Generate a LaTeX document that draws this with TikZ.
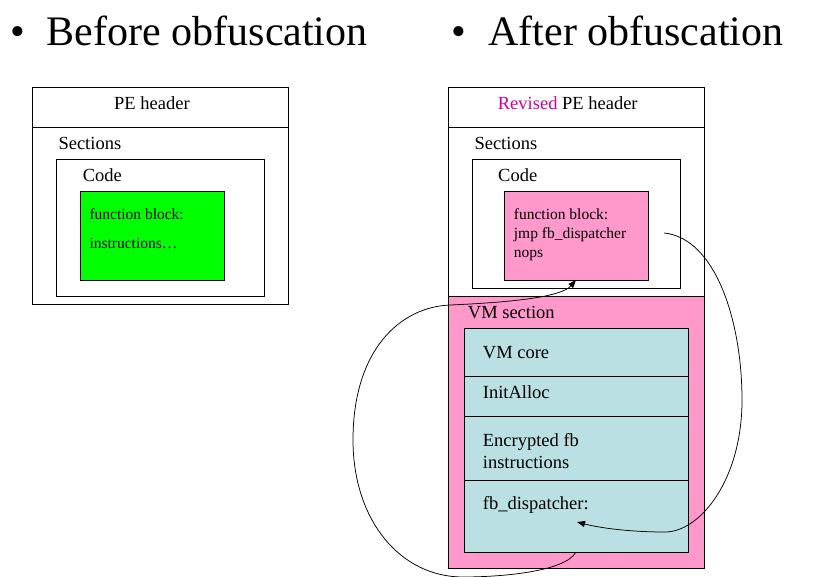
\documentclass[tikz,border=0pt]{standalone}
\usepackage{fontspec}
\setmainfont{Liberation Serif}
\usetikzlibrary{arrows.meta,calc}
\definecolor{pinkfill}{HTML}{FF99CC}
\definecolor{cyanfill}{HTML}{BBE0E3}
\definecolor{greenfill}{HTML}{00FF00}
\definecolor{revised}{HTML}{CC0099}
\tikzset{
  box/.style={draw, line width=1pt, inner sep=0pt, outer sep=0pt, anchor=north west},
  lbl/.style={inner sep=0pt, anchor=base west, font=\fontsize{18.5}{22}\selectfont},
  small/.style={inner sep=0pt, anchor=base west, font=\fontsize{15.5}{19}\selectfont},
  ttl/.style={inner sep=0pt, anchor=base west, font=\fontsize{42}{50}\selectfont},
  bul/.style={inner sep=0pt, anchor=base, font=\fontsize{42}{50}\selectfont},
  conn/.style={line width=0.75pt, -{Triangle[length=8pt,width=6pt]}}
}
\begin{document}
\begin{tikzpicture}[x=1pt,y=-1pt]
\useasboundingbox (0,0) rectangle (824,577);
% titles
\node[bul] (b1) at (17.5,45.7) {•};
\node[ttl] (t1) at (46.7,45.7) {Before obfuscation};
\node[bul] (b2) at (458.5,45.7) {•};
\node[ttl] (t2) at (488.3,45.7) {After obfuscation};
% ---------- left ----------
\node[box, minimum width=256pt, minimum height=216pt] (Lout) at (32,88) {};
\draw[line width=1pt] (32,128) -- (288,128);
\node[box, minimum width=208pt, minimum height=136pt] (Lcode) at (56,160) {};
\node[box, fill=greenfill, minimum width=144pt, minimum height=88pt] (Lfn) at (80,192) {};
\node[lbl] (Lhdr) at (114,109.5) {PE header};
\node[lbl] (Lsec) at (58.3,149.5) {Sections};
\node[lbl] (Lcodet) at (82.7,182) {Code};
\node[small] (Lfn1) at (89.3,219.5) {function block:};
\node[small] (Lfn2) at (89.3,248.5) {instructions…};
% ---------- right ----------
\node[box, fill=pinkfill, minimum width=256pt, minimum height=272pt] (Rvm) at (448,296) {};
\node[box, minimum width=256pt, minimum height=480pt] (Rout) at (448,88) {};
\draw[line width=1pt] (448,128) -- (704,128);
\node[box, minimum width=208pt, minimum height=128pt] (Rcode) at (472,160) {};
\node[box, fill=pinkfill, minimum width=144pt, minimum height=88pt] (Rfn) at (504,192) {};
\node[box, fill=cyanfill, minimum width=224pt, minimum height=48pt] (vmcore) at (464,328) {};
\node[box, fill=cyanfill, minimum width=224pt, minimum height=40pt] (initalloc) at (464,376) {};
\node[box, fill=cyanfill, minimum width=224pt, minimum height=64pt] (encfb) at (464,416) {};
\node[box, fill=cyanfill, minimum width=224pt, minimum height=72pt] (disp) at (464,480) {};
\node[lbl] (Rhdr) at (497.7,109.5) {\textcolor{revised}{Revised} PE header};
\node[lbl] (Rsec) at (474.3,149.5) {Sections};
\node[lbl] (Rcodet) at (498,182) {Code};
\node[small] (Rfn1) at (513.7,219.5) {function block:};
\node[small] (Rfn2) at (513.7,238.5) {jmp fb\_dispatcher};
\node[small] (Rfn3) at (513.7,257.5) {nops};
\node[lbl] (vmt) at (467.7,318) {VM section};
\node[lbl] (vmct) at (482.7,358) {VM core};
\node[lbl] (iat) at (482.7,398) {InitAlloc};
\node[lbl] (ent1) at (482.7,446) {Encrypted fb};
\node[lbl] (ent2) at (482.7,468.5) {instructions};
\node[lbl] (dispt) at (482.7,509.5) {fb\_dispatcher:};
% connectors
\coordinate (jmpend) at ($(Rfn.east)+(16,-3)$);
\coordinate (dispin) at ($(disp.south)+(1,-30)$);
\draw[conn] (jmpend) .. controls (715,238) and (742,320) .. (742,400)
  .. controls (742,480) and (700,532) .. (665,532)
  .. controls (630,532) and (600,528) .. (dispin);
\draw[conn] (disp.south) .. controls (565,572) and (500,577) .. (463,577)
  .. controls (400,577) and (353,520) .. (353,440)
  .. controls (353,350) and (400,307) .. (450,305)
  .. controls (520,302) and (562,296) .. (Rfn.south);
\end{tikzpicture}
\end{document}
